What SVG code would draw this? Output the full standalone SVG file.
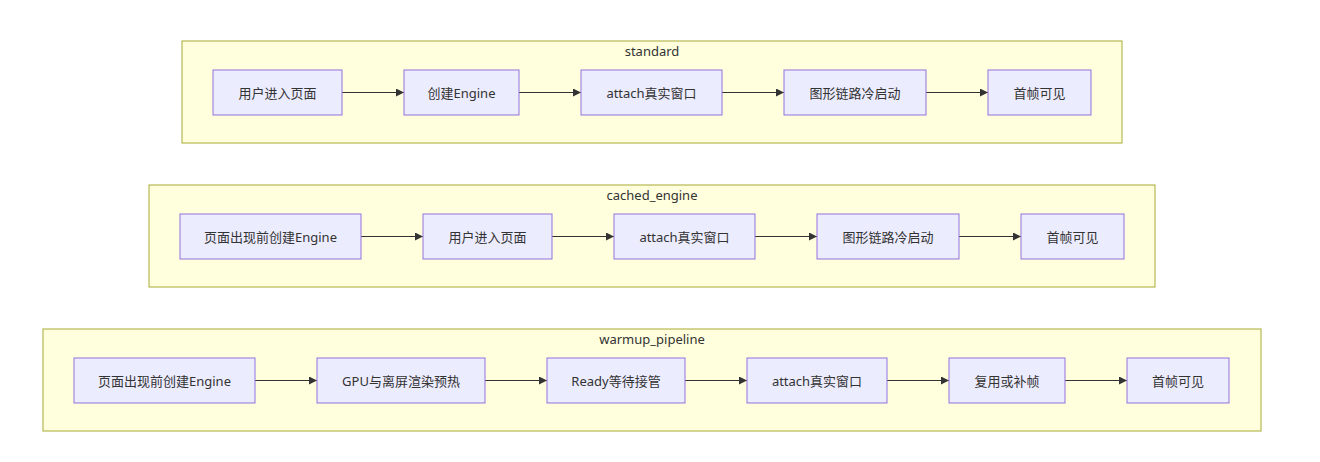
<svg xmlns="http://www.w3.org/2000/svg" width="1320" height="462" viewBox="0 0 1320 462">
<style>
.cl{fill:#ffffde;stroke:#aaaa33;stroke-width:1}
.nd{fill:#ececff;stroke:#9370db;stroke-width:1}
.t{font-family:"Noto Sans","Noto Sans CJK SC",sans-serif;font-size:13px;fill:#333;text-anchor:middle;dominant-baseline:central}
.e{stroke:#333;stroke-width:1;fill:none;marker-end:url(#ah)}
</style>
<defs>
<marker id="ah" viewBox="0 0 10 10" refX="10" refY="5" markerWidth="8" markerHeight="8" markerUnits="userSpaceOnUse" orient="auto">
<path d="M0,0 L10,5 L0,10 z" fill="#333"/>
</marker>
</defs>
<rect width="1320" height="462" fill="#ffffff"/>
<g id="standard">
<rect class="cl" x="182" y="41" width="940" height="102"/>
<text class="t" x="652" y="51">standard</text>
</g>
<g id="cached_engine">
<rect class="cl" x="149" y="185" width="1006" height="102"/>
<text class="t" x="652" y="195">cached_engine</text>
</g>
<g id="warmup_pipeline">
<rect class="cl" x="43" y="329" width="1218" height="102"/>
<text class="t" x="652" y="339">warmup_pipeline</text>
</g>
<g id="connectors">
<line class="e" x1="342" y1="92.5" x2="404" y2="92.5"/>
<line class="e" x1="519" y1="92.5" x2="581" y2="92.5"/>
<line class="e" x1="722" y1="92.5" x2="784" y2="92.5"/>
<line class="e" x1="926" y1="92.5" x2="988" y2="92.5"/>
<line class="e" x1="361" y1="236.5" x2="423" y2="236.5"/>
<line class="e" x1="552" y1="236.5" x2="614" y2="236.5"/>
<line class="e" x1="755" y1="236.5" x2="817" y2="236.5"/>
<line class="e" x1="959" y1="236.5" x2="1021" y2="236.5"/>
<line class="e" x1="255" y1="380.5" x2="317" y2="380.5"/>
<line class="e" x1="485" y1="380.5" x2="547" y2="380.5"/>
<line class="e" x1="685" y1="380.5" x2="747" y2="380.5"/>
<line class="e" x1="887" y1="380.5" x2="949" y2="380.5"/>
<line class="e" x1="1065" y1="380.5" x2="1127" y2="380.5"/>
</g>
<g id="s1"><rect class="nd" x="213" y="70" width="129" height="45"/><text class="t" x="277.5" y="92.5">用户进入页面</text></g>
<g id="s2"><rect class="nd" x="404" y="70" width="115" height="45"/><text class="t" x="461.5" y="92.5">创建Engine</text></g>
<g id="s3"><rect class="nd" x="581" y="70" width="141" height="45"/><text class="t" x="651.5" y="92.5">attach真实窗口</text></g>
<g id="s4"><rect class="nd" x="784" y="70" width="142" height="45"/><text class="t" x="855" y="92.5">图形链路冷启动</text></g>
<g id="s5"><rect class="nd" x="988" y="70" width="103" height="45"/><text class="t" x="1039.5" y="92.5">首帧可见</text></g>
<g id="c1"><rect class="nd" x="180" y="214" width="181" height="45"/><text class="t" x="270.5" y="236.5">页面出现前创建Engine</text></g>
<g id="c2"><rect class="nd" x="423" y="214" width="129" height="45"/><text class="t" x="487.5" y="236.5">用户进入页面</text></g>
<g id="c3"><rect class="nd" x="614" y="214" width="141" height="45"/><text class="t" x="684.5" y="236.5">attach真实窗口</text></g>
<g id="c4"><rect class="nd" x="817" y="214" width="142" height="45"/><text class="t" x="888" y="236.5">图形链路冷启动</text></g>
<g id="c5"><rect class="nd" x="1021" y="214" width="103" height="45"/><text class="t" x="1072.5" y="236.5">首帧可见</text></g>
<g id="w1"><rect class="nd" x="74" y="358" width="181" height="45"/><text class="t" x="164.5" y="380.5">页面出现前创建Engine</text></g>
<g id="w2"><rect class="nd" x="317" y="358" width="168" height="45"/><text class="t" x="401" y="380.5">GPU与离屏渲染预热</text></g>
<g id="w3"><rect class="nd" x="547" y="358" width="138" height="45"/><text class="t" x="616" y="380.5">Ready等待接管</text></g>
<g id="w4"><rect class="nd" x="747" y="358" width="140" height="45"/><text class="t" x="817" y="380.5">attach真实窗口</text></g>
<g id="w5"><rect class="nd" x="949" y="358" width="116" height="45"/><text class="t" x="1007" y="380.5">复用或补帧</text></g>
<g id="w6"><rect class="nd" x="1127" y="358" width="102" height="45"/><text class="t" x="1178" y="380.5">首帧可见</text></g>
</svg>
